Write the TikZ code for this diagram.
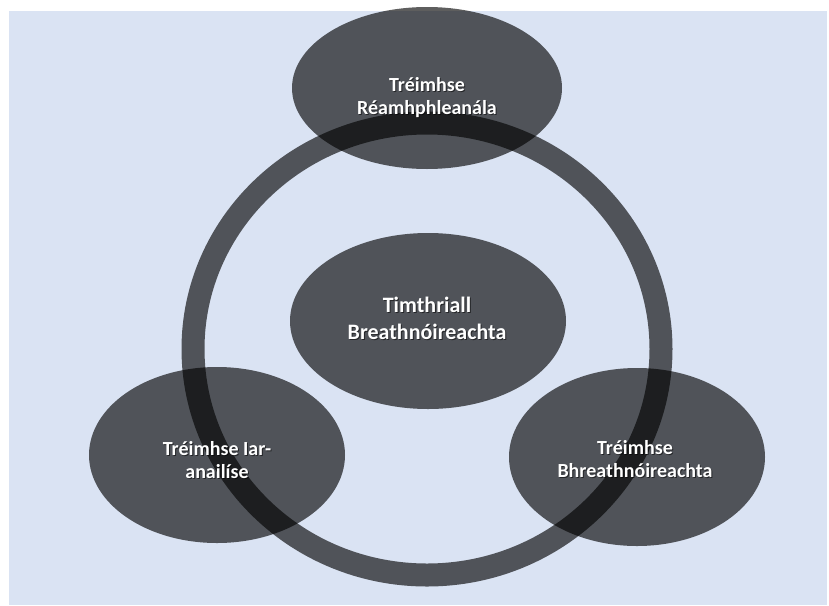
\documentclass[tikz,border=0pt]{standalone}
\usepackage{fontspec}
\setmainfont{Carlito}
\usetikzlibrary{shapes.geometric}

\definecolor{paneblue}{RGB}{218,227,243}

\tikzset{
  phase/.style={ellipse, inner sep=0pt, fill=black, fill opacity=0.63, draw=none},
  ring/.style={ellipse, inner sep=0pt, draw=black, draw opacity=0.63, line width=23pt},
  caption/.style={text=white, align=center, inner sep=0pt,
    font=\bfseries\fontsize{20}{23}\selectfont},
  bigcaption/.style={caption, font=\bfseries\fontsize{22}{27}\selectfont},
  textshade/.style={text=black, text opacity=0.55}
}

\begin{document}
\begin{tikzpicture}[x=1pt, y=-1pt]
  \useasboundingbox (0,0) rectangle (829,605);
  \fill[paneblue] (9,11) rectangle (827,605);

  % the cycle ring
  \node[ring, minimum width=468pt, minimum height=452pt] (cycle) at (427,349) {};

  % the four phases
  \node[phase, minimum width=270pt, minimum height=162pt] (pre) at (427,88) {};
  \node[phase, minimum width=276pt, minimum height=176pt] (core) at (428,321) {};
  \node[phase, minimum width=256pt, minimum height=176pt] (post) at (217,455) {};
  \node[phase, minimum width=256pt, minimum height=178pt] (obs) at (637,457) {};

  % captions, each with a soft drop shadow
  \node[caption, textshade] (preS) at (428,99) {Tréimhse\\Réamhphleanála};
  \node[caption] (preT) at (427,98) {Tréimhse\\Réamhphleanála};

  \node[bigcaption, textshade] (coreS) at (428,319) {Timthriall\\Breathnóireachta};
  \node[bigcaption] (coreT) at (427,318) {Timthriall\\Breathnóireachta};

  \node[caption, textshade] (postS) at (218,461) {Tréimhse Iar-\\anailíse};
  \node[caption] (postT) at (217,460) {Tréimhse Iar-\\anailíse};

  \node[caption, textshade] (obsS) at (636,460) {Tréimhse\\Bhreathnóireachta};
  \node[caption] (obsT) at (635,459) {Tréimhse\\Bhreathnóireachta};
\end{tikzpicture}
\end{document}
